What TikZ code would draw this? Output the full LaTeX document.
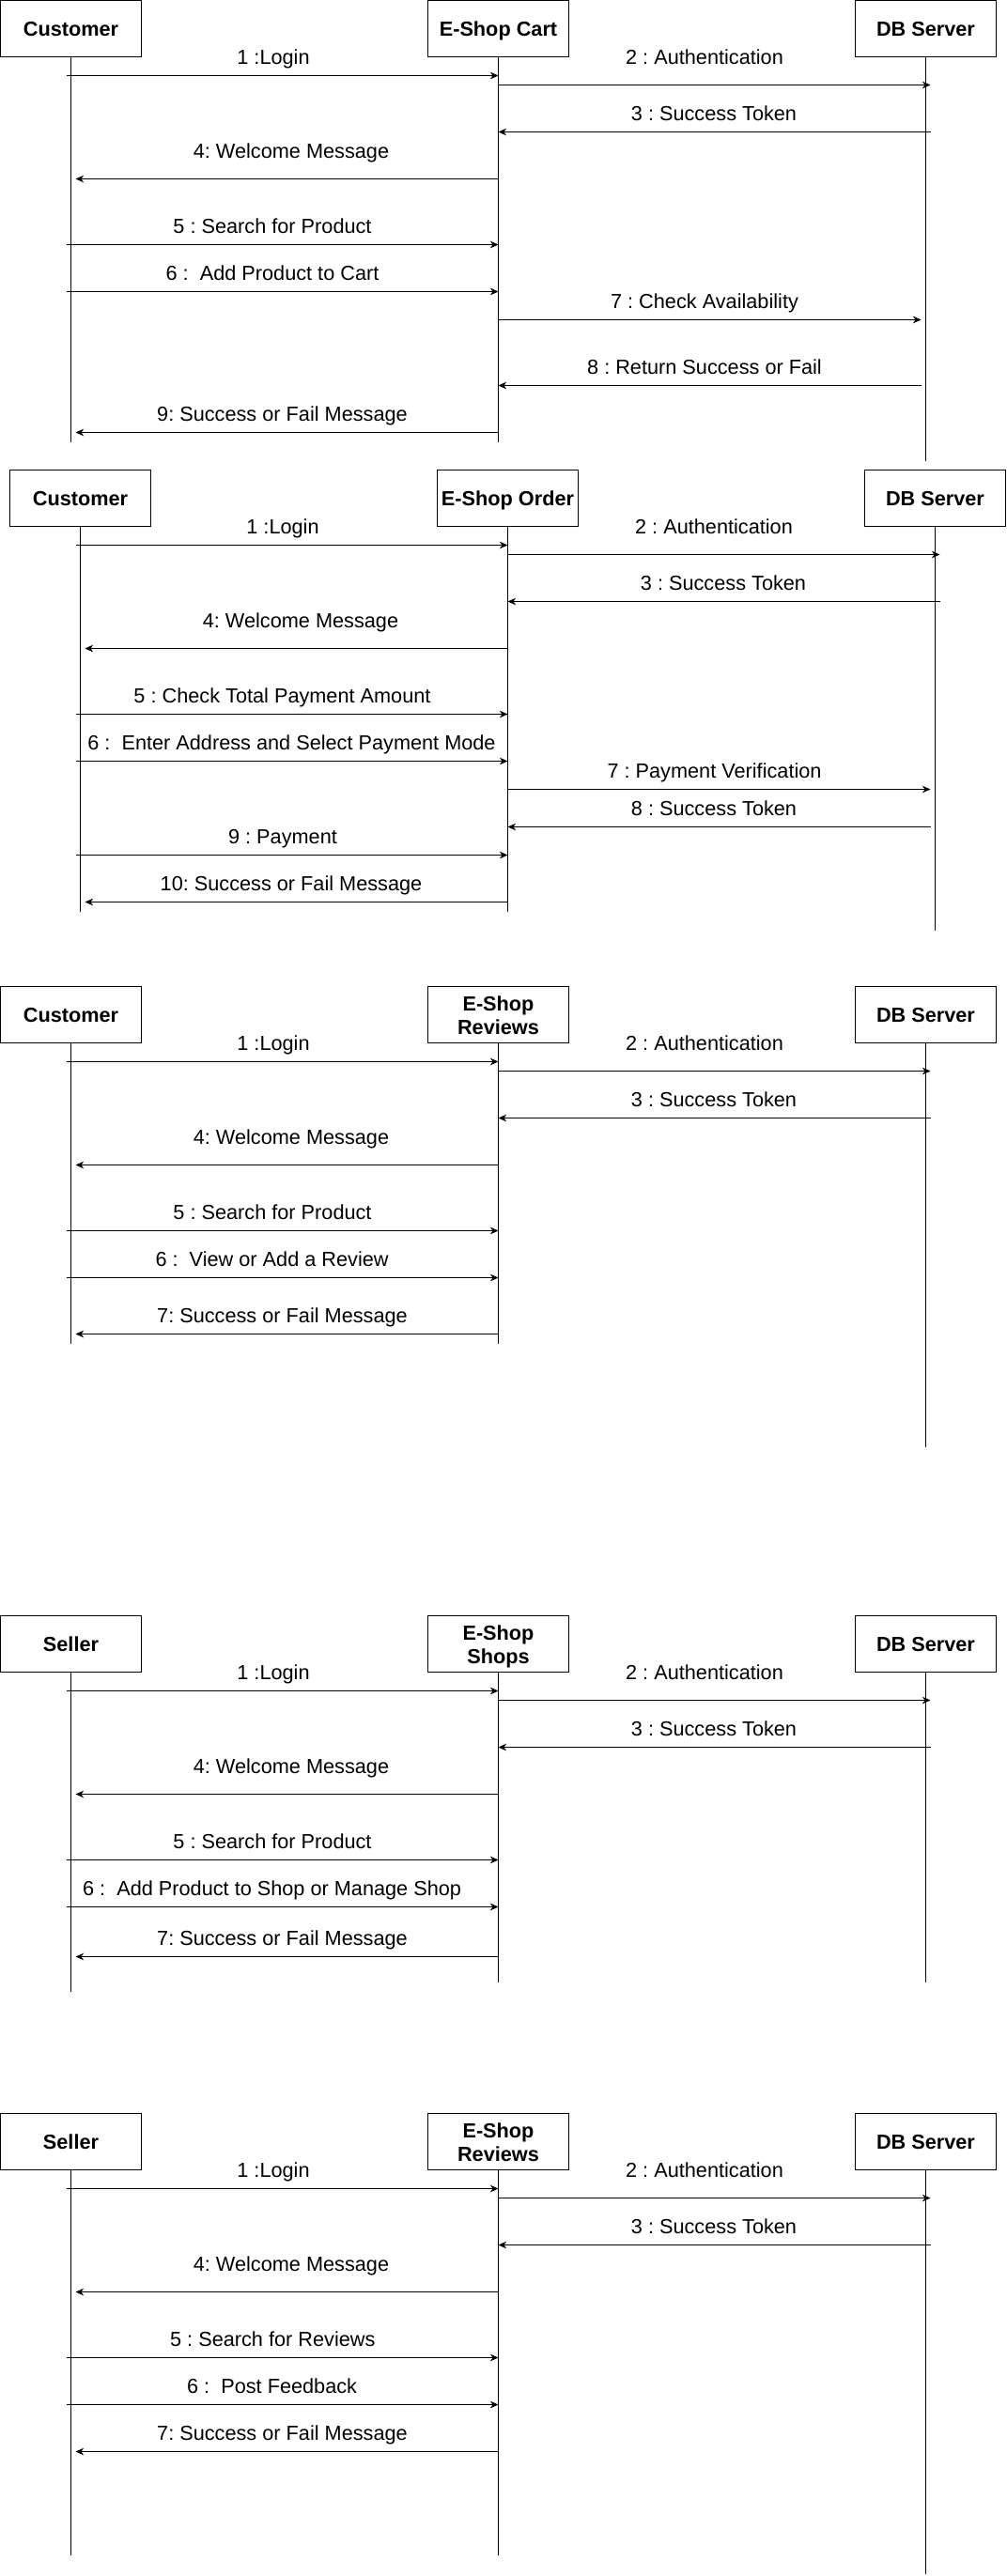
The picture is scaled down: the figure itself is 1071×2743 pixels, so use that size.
\documentclass[tikz,border=0pt]{standalone}
\usepackage{fontspec}
\setmainfont{Liberation Sans}
\usetikzlibrary{arrows.meta}
\frenchspacing
\tikzset{
  pbox/.style={draw=black, line width=1pt, minimum width=150pt, minimum height=60pt, inner sep=0pt, fill=white},
  ttl/.style={font=\frenchspacing\bfseries\fontsize{21.7}{25}\selectfont, anchor=base, inner sep=0pt},
  lbl/.style={font=\frenchspacing\fontsize{21.7}{25}\selectfont, anchor=base, inner sep=0pt},
  life/.style={draw=black, line width=1pt},
  msg/.style={draw=black, line width=1pt, -{Stealth[length=8.5pt,width=7.5pt,inset=2.5pt]}}
}
% participant: name, x, lifeline end y, title
\newcommand\seqpart[4]{%
  \node[pbox] (#1) at (#2,30.5) {};
  \node[ttl] (#1t) at (#2,38.3) {#4};
  \coordinate (#1end) at (#2,#3);
  \draw[life] (#1) -- (#1end);
}
% participant with two-line title
\newcommand\seqparttwo[5]{%
  \node[pbox] (#1) at (#2,30.5) {};
  \node[ttl] (#1t) at (#2,26) {#4};
  \node[ttl] (#1u) at (#2,51) {#5};
  \coordinate (#1end) at (#2,#3);
  \draw[life] (#1) -- (#1end);
}
% message: name, y, x from, x to, label x, label cap-centre y, text
\newcommand\seqmsg[7]{%
  \coordinate (#1s) at (#3,#2);
  \coordinate (#1e) at (#4,#2);
  \draw[msg] (#1s) -- (#1e);
  \node[lbl] (#1t) at (#5,#6+7.8) {#7};
}
\begin{document}
\begin{tikzpicture}[x=1pt,y=-1pt]
\useasboundingbox (0,0) rectangle (1071,2743);
\fill[white] (0,0) rectangle (1071,2743);

% ---------- Diagram 1: E-Shop Cart ----------
\begin{scope}
\seqpart{da}{75.5}{470.5}{Customer}
\seqpart{db}{530.5}{470.5}{E-Shop Cart}
\seqpart{dc}{985.5}{490.5}{DB Server}
\seqmsg{am1}{80.5}{70.5}{530.5}{291}{61}{1 :Login}
\seqmsg{am2}{90.5}{530.5}{990.5}{750}{61}{2 : Authentication}
\seqmsg{am3}{140.5}{990.5}{530.5}{760}{120.7}{3 : Success Token}
\seqmsg{am4}{190.5}{530.5}{80.5}{310}{161}{4: Welcome Message}
\seqmsg{am5}{260.5}{70.5}{530.5}{290}{240.7}{5 : Search for Product}
\seqmsg{am6}{310.5}{70.5}{530.5}{290}{290.3}{6 :\ \ Add Product to Cart}
\seqmsg{am7}{340.5}{530.5}{980.5}{750}{320.7}{7 : Check Availability}
\seqmsg{am8}{410.5}{980.5}{530.5}{750}{390.7}{8 : Return Success or Fail}
\seqmsg{am9}{460.5}{530.5}{80.5}{300.5}{440.7}{9: Success or Fail Message}
\end{scope}

% ---------- Diagram 2: E-Shop Order ----------
\begin{scope}[shift={(10,500)}]
\seqpart{ea}{75.5}{470.5}{Customer}
\seqpart{eb}{530.5}{470.5}{E-Shop Order}
\seqpart{ec}{985.5}{490.5}{DB Server}
\seqmsg{bm1}{80.5}{70.5}{530.5}{291}{61}{1 :Login}
\seqmsg{bm2}{90.5}{530.5}{990.5}{750}{61}{2 : Authentication}
\seqmsg{bm3}{140.5}{990.5}{530.5}{760}{120.5}{3 : Success Token}
\seqmsg{bm4}{190.5}{530.5}{80.5}{310}{161}{4: Welcome Message}
\seqmsg{bm5}{260.5}{70.5}{530.5}{290.5}{240.7}{5 : Check Total Payment Amount}
\seqmsg{bm6}{310.5}{70.5}{530.5}{300.5}{290.7}{6 :\ \ Enter Address and Select Payment Mode}
\seqmsg{bm7}{340.5}{530.5}{980.5}{750.5}{321}{7 : Payment Verification}
\seqmsg{bm8}{380.5}{980.5}{530.5}{750}{361}{8 : Success Token}
\seqmsg{bm9}{410.5}{70.5}{530.5}{291}{390.7}{9 : Payment}
\seqmsg{bm10}{460.5}{530.5}{80.5}{300}{441}{10: Success or Fail Message}
\end{scope}

% ---------- Diagram 3: E-Shop Reviews (Customer) ----------
\begin{scope}[shift={(0,1050)}]
\seqpart{fa}{75.5}{380.5}{Customer}
\seqparttwo{fb}{530.5}{380.5}{E-Shop}{Reviews}
\seqpart{fc}{985.5}{490.5}{DB Server}
\seqmsg{cm1}{80.5}{70.5}{530.5}{291}{61}{1 :Login}
\seqmsg{cm2}{90.5}{530.5}{990.5}{750}{61}{2 : Authentication}
\seqmsg{cm3}{140.5}{990.5}{530.5}{760}{120.7}{3 : Success Token}
\seqmsg{cm4}{190.5}{530.5}{80.5}{310}{161}{4: Welcome Message}
\seqmsg{cm5}{260.5}{70.5}{530.5}{290}{240.7}{5 : Search for Product}
\seqmsg{cm6}{310.5}{70.5}{530.5}{289.6}{290.3}{6 :\ \ View or Add a Review}
\seqmsg{cm7}{370.5}{530.5}{80.5}{300.5}{350.7}{7: Success or Fail Message}
\end{scope}

% ---------- Diagram 4: E-Shop Shops (Seller) ----------
\begin{scope}[shift={(0,1720)}]
\seqpart{ga}{75.5}{400.5}{Seller}
\seqparttwo{gb}{530.5}{390.5}{E-Shop}{Shops}
\seqpart{gc}{985.5}{390.5}{DB Server}
\seqmsg{dm1}{80.5}{70.5}{530.5}{291}{61}{1 :Login}
\seqmsg{dm2}{90.5}{530.5}{990.5}{750}{61}{2 : Authentication}
\seqmsg{dm3}{140.5}{990.5}{530.5}{760}{120.7}{3 : Success Token}
\seqmsg{dm4}{190.5}{530.5}{80.5}{310}{161}{4: Welcome Message}
\seqmsg{dm5}{260.5}{70.5}{530.5}{290}{240.7}{5 : Search for Product}
\seqmsg{dm6}{310.5}{70.5}{530.5}{289.6}{290.3}{6 :\ \ Add Product to Shop or Manage Shop}
\seqmsg{dm7}{363.5}{530.5}{80.5}{300.5}{343.7}{7: Success or Fail Message}
\end{scope}

% ---------- Diagram 5: E-Shop Reviews (Seller) ----------
\begin{scope}[shift={(0,2250)}]
\seqpart{ha}{75.5}{470.5}{Seller}
\seqparttwo{hb}{530.5}{470.5}{E-Shop}{Reviews}
\seqpart{hc}{985.5}{490.5}{DB Server}
\seqmsg{em1}{80.5}{70.5}{530.5}{291}{61}{1 :Login}
\seqmsg{em2}{90.5}{530.5}{990.5}{750}{61}{2 : Authentication}
\seqmsg{em3}{140.5}{990.5}{530.5}{760}{120.7}{3 : Success Token}
\seqmsg{em4}{190.5}{530.5}{80.5}{310}{161}{4: Welcome Message}
\seqmsg{em5}{260.5}{70.5}{530.5}{290.3}{240.7}{5 : Search for Reviews}
\seqmsg{em6}{310.5}{70.5}{530.5}{289.6}{290.3}{6 :\ \ Post Feedback}
\seqmsg{em7}{360.5}{530.5}{80.5}{300.5}{340.3}{7: Success or Fail Message}
\end{scope}
\end{tikzpicture}
\end{document}
